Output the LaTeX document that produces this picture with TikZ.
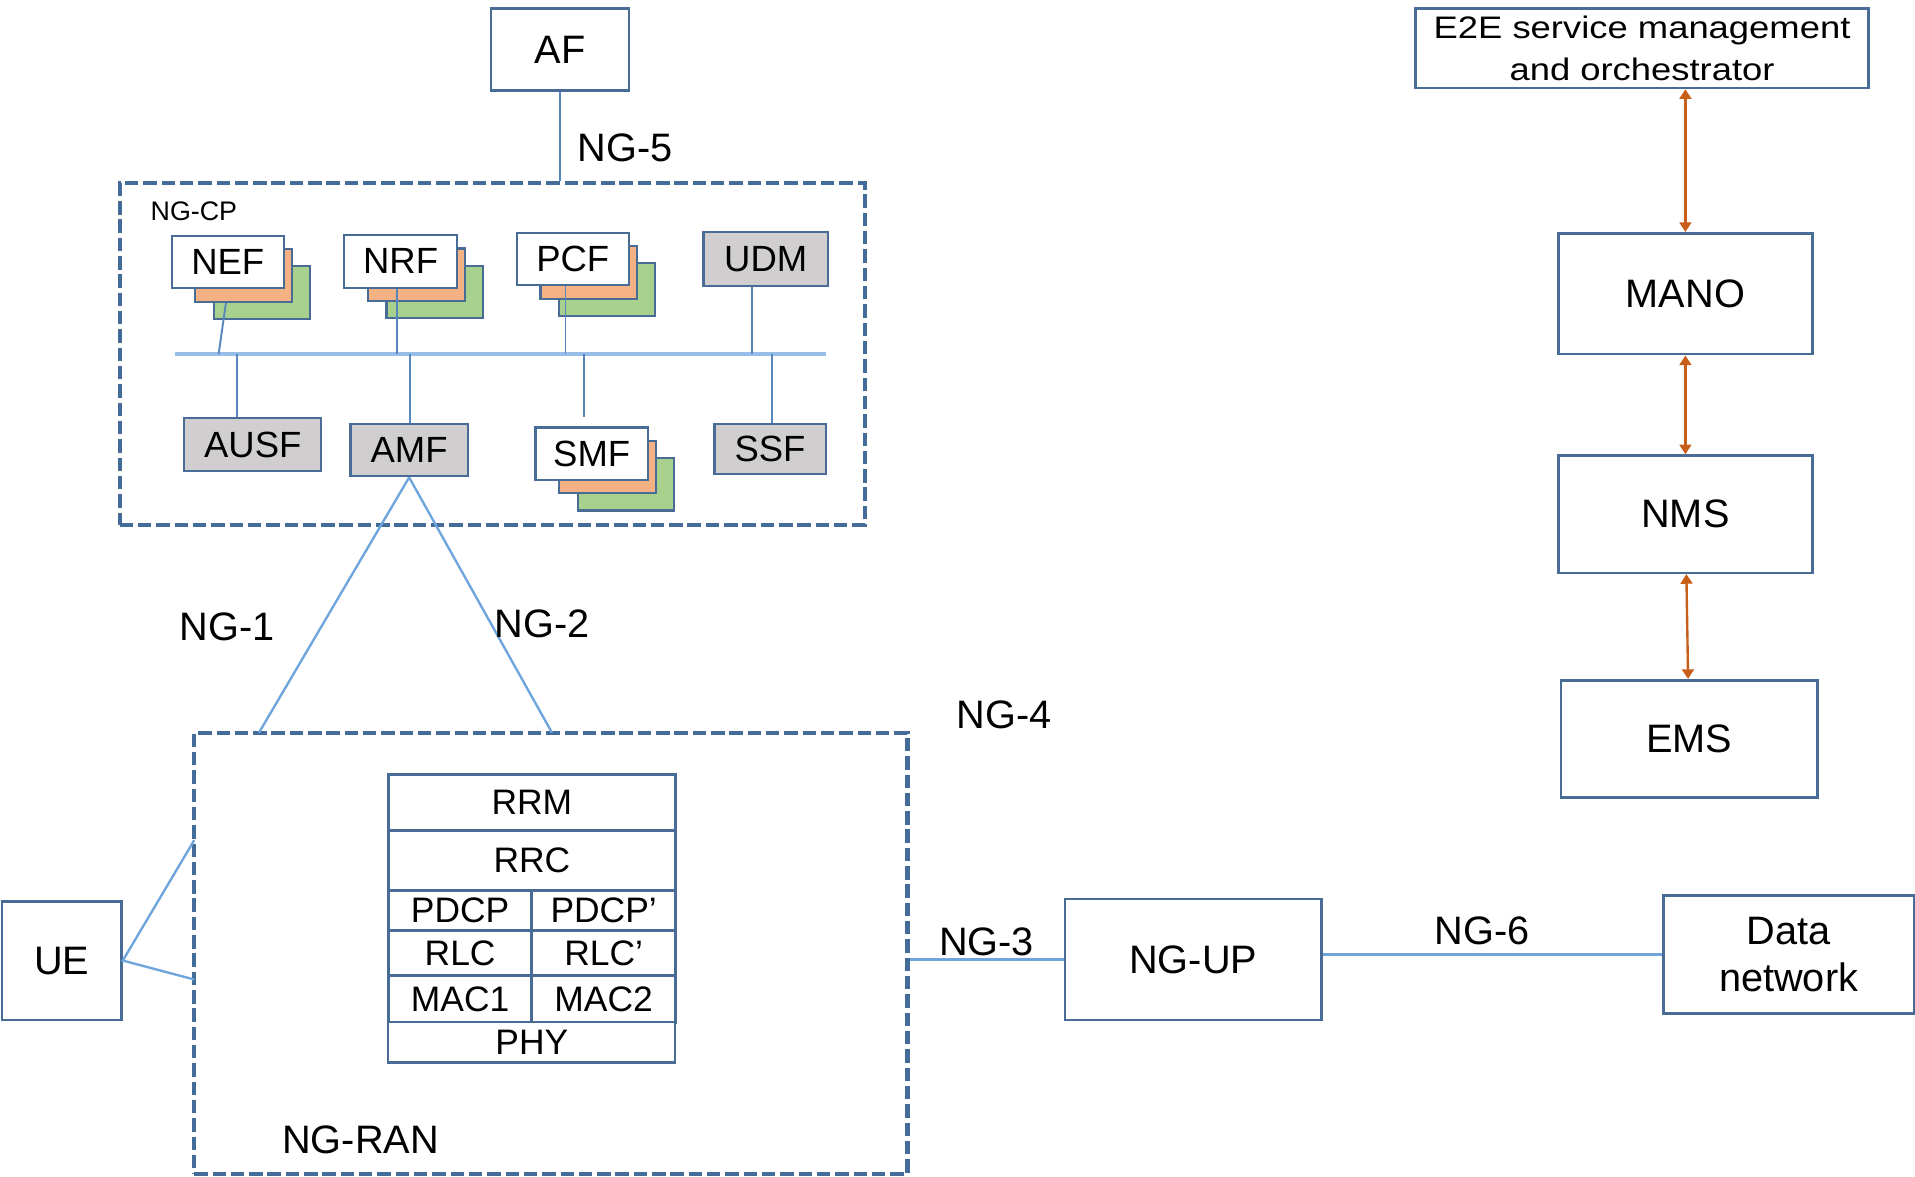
\documentclass[tikz,border=0pt]{standalone}
\usepackage{fontspec}
\setmainfont{Liberation Sans}
\newfontfamily\widefont[FakeStretch=1.17]{Liberation Sans}
\usetikzlibrary{positioning,arrows.meta}

\definecolor{bdr}{RGB}{72,108,150}
\definecolor{dashblue}{RGB}{68,108,152}
\definecolor{linkblue}{RGB}{110,165,220}
\definecolor{tapblue}{RGB}{88,135,192}
\definecolor{busblue}{RGB}{150,190,232}
\definecolor{nfgray}{RGB}{208,206,206}
\definecolor{nforange}{RGB}{244,177,131}
\definecolor{nfgreen}{RGB}{169,209,142}
\definecolor{mgmtorange}{RGB}{200,95,25}

\newcommand{\bigfont}{\fontsize{18.5}{22}\selectfont}
\newcommand{\nffont}{\fontsize{17}{20}\selectfont}
\newcommand{\stackfont}{\fontsize{16.5}{19}\selectfont}

% network function with two instances behind it
\newcommand{\nfstack}[4]{%
  \node[layer, fill=nfgreen] (#1C) at (#2+28,#3+25) {};
  \node[layer, fill=nforange] (#1B) at (#2+13,#3+11) {};
  \node[nf] (#1) at (#2,#3) {#4};
}

\begin{document}
\begin{tikzpicture}[
    x=0.02cm, y=-0.02cm,
    wh/.style 2 args={minimum width=#1*0.02cm, minimum height=#2*0.02cm},
    box/.style={rectangle, draw=bdr, line width=1.2pt, fill=white, inner sep=0pt, font=\bigfont},
    nf/.style={rectangle, draw=bdr, line width=1pt, fill=white, inner sep=0pt, minimum width=1.84cm, minimum height=0.86cm, font=\nffont},
    gnf/.style={nf, fill=nfgray},
    layer/.style={rectangle, draw=bdr, line width=1pt, inner sep=0pt, minimum width=1.58cm, minimum height=0.86cm},
    cell/.style={rectangle, draw=bdr, line width=1.3pt, fill=white, inner sep=0pt, outer sep=0pt, font=\stackfont},
    zone/.style={rectangle, draw=dashblue, line width=2pt, dash pattern=on 0.22cm off 0.08cm, inner sep=0pt},
    link/.style={draw=linkblue, line width=1.1pt},
    tie/.style={draw=tapblue, line width=0.9pt},
    bus/.style={draw=busblue, line width=1.8pt},
    arr/.style={{Triangle[length=4.5pt,width=5.5pt]}-{Triangle[length=4.5pt,width=5.5pt]}, draw=mgmtorange, line width=1.1pt},
    lbl/.style={font=\bigfont, inner sep=1pt}
]
\useasboundingbox (0,0) rectangle (1568,963);

% domains
\node[zone, wh={610}{280}] (ngcp) at (403,290) {};
\node[font=\fontsize{12.5}{14}\selectfont, anchor=west, inner sep=0pt] (ngcplbl) at (123,173) {NG-CP};
\node[zone, wh={584}{361}] (ngran) at (451,780.5) {};
\node[lbl, anchor=west] (ngranlbl) at (229,933) {NG-RAN};

\node[box, wh={113}{67}] (af) at (458.5,40.5) {AF};
\draw[tie] (af.south) -- (af.south |- ngcp.north);
\node[lbl, anchor=west] (ng5) at (471,121) {NG-5};

% control plane functions
\draw[bus] (143,290) coordinate (busL) -- (676,290) coordinate (busR);

\nfstack{nef}{186.5}{214.5}{NEF}
\nfstack{nrf}{328}{214}{NRF}
\nfstack{pcf}{469}{212}{PCF}
\nfstack{smf}{484.5}{371.5}{SMF}

\node[gnf, wh={102}{44}] (udm) at (627,212) {UDM};
\node[gnf, wh={112}{44}] (ausf) at (207,364) {AUSF};
\node[gnf, wh={96}{43}] (amf) at (335,368.5) {AMF};
\node[gnf, wh={91}{41}] (ssf) at (630.5,367.5) {SSF};

\coordinate (tnef) at (179,290);
\coordinate (tnrf) at (325,290);
\coordinate (tpcf) at (463,290);
\coordinate (tudm) at (616,290);
\coordinate (tausf) at (194,290);
\coordinate (tamf) at (336,290);
\coordinate (tsmf) at (478,290);
\coordinate (tssf) at (632,290);

\draw[tie] ([xshift=-0.29cm]nefB.south) -- (tnef);
\draw[tie] (tnrf |- nrf.south) -- (tnrf);
\draw[tie] (tpcf |- pcf.south) -- (tpcf);
\draw[tie] (tudm |- udm.south) -- (tudm);
\draw[tie] (tausf) -- (tausf |- ausf.north);
\draw[tie] (tamf) -- (tamf |- amf.north);
\draw[tie, shorten >=0.16cm] (tsmf) -- (tsmf |- smf.north);
\draw[tie] (tssf) -- (tssf |- ssf.north);

% AMF to RAN
\coordinate (ran1) at (212,600);
\coordinate (ran2) at (452,600);
\draw[link] (amf.south) -- (ran1);
\draw[link] (amf.south) -- (ran2);
\node[lbl] (ng1) at (186,513) {NG-1};
\node[lbl] (ng2) at (444,511) {NG-2};
\node[lbl] (ng4) at (822,585) {NG-4};

% RAN protocol stack
\node[cell, wh={235}{46}] (rrm) at (435.5,657) {RRM};
\node[cell, wh={235}{49}, below=0pt of rrm] (rrc) {RRC};
\node[cell, wh={117.5}{33}, anchor=north west] (pdcpa) at (rrc.south west) {PDCP};
\node[cell, wh={117.5}{33}, right=0pt of pdcpa] (pdcpb) {PDCP’};
\node[cell, wh={117.5}{37}, below=0pt of pdcpa] (rlca) {RLC};
\node[cell, wh={117.5}{37}, below=0pt of pdcpb] (rlcb) {RLC’};
\node[cell, wh={117.5}{38}, below=0pt of rlca] (maca) {MAC1};
\node[cell, wh={117.5}{38}, below=0pt of rlcb] (macb) {MAC2};
\node[cell, wh={235}{33}, line width=1pt, anchor=north west] (phy) at (maca.south west) {PHY};

% UE and user plane
\node[box, wh={98}{97}] (ue) at (50.5,786.5) {UE};
\coordinate (uea) at (159,688);
\coordinate (ueb) at (159,802);
\draw[link] (uea) -- (ue.east) -- (ueb);

\node[box, wh={210}{99}] (ngup) at (977,785.5) {NG-UP};
\node[box, wh={205}{97}, align=center] (dn) at (1464.5,781.5) {Data\\network};
\draw[link] (ngran.east |- ngup.west) -- node[lbl, above] (ng3) {NG-3} (ngup.west);
\draw[link] (ngup.east |- dn.west) -- node[lbl, above=3pt, pos=0.47] (ng6) {NG-6} (dn.west);

% management
\node[box, wh={371}{65}, font=\widefont\fontsize{14.5}{19.6}\selectfont, align=center] (e2e) at (1344.5,39.5) {E2E service management\\and orchestrator};
\node[box, wh={208}{99}] (mano) at (1380,240.5) {MANO};
\node[box, wh={208}{96}] (nms) at (1380,421) {NMS};
\node[box, wh={210}{96}] (ems) at (1383,605) {EMS};

\draw[arr] (mano.north) -- (mano.north |- e2e.south);
\draw[arr] (mano) -- (nms);
\draw[arr] (nms) -- (ems);

\end{tikzpicture}
\end{document}
